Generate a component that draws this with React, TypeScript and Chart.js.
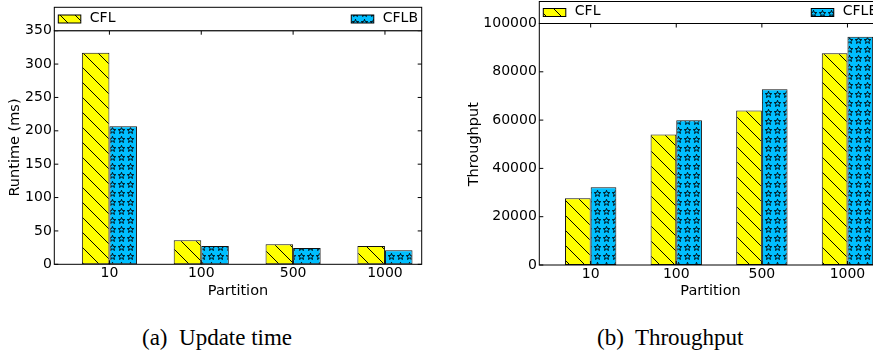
import React, { useEffect, useRef } from "react";
import { Chart, registerables } from "chart.js";

Chart.register(...registerables);
Chart.defaults.font.family = '"DejaVu Sans", sans-serif';
Chart.defaults.color = "#000";

const categories = ["10", "100", "500", "1000"];
const seriesNames = ["CFL", "CFLB"];
const runtimeCFL = [317, 36, 30, 27.5];
const runtimeCFLB = [207, 27.5, 24.5, 21];
const throughputCFL = [27600, 54000, 64000, 87700];
const throughputCFLB = [32200, 59900, 72800, 94500];
const runtimeTicks = [0, 50, 100, 150, 200, 250, 300, 350];
const throughputTicks = [0, 20000, 40000, 60000, 80000, 100000];

function makeHatch(): CanvasPattern {
  const s = 15;
  const c = document.createElement("canvas");
  c.width = s;
  c.height = s;
  const g = c.getContext("2d")!;
  g.fillStyle = "#ffff00";
  g.fillRect(0, 0, s, s);
  g.strokeStyle = "#000";
  g.lineWidth = 1;
  g.beginPath();
  for (const o of [-s, 0, s]) {
    g.moveTo(o - 1, -1);
    g.lineTo(o + s + 1, s + 1);
  }
  g.stroke();
  return g.createPattern(c, "repeat")!;
}

function makeStars(): CanvasPattern {
  const s = 9;
  const c = document.createElement("canvas");
  c.width = s;
  c.height = s;
  const g = c.getContext("2d")!;
  g.fillStyle = "#00bfff";
  g.fillRect(0, 0, s, s);
  g.strokeStyle = "#000";
  g.lineWidth = 0.9;
  const cx = 4.5, cy = 4.7, R = 3.4, r = 1.45;
  g.beginPath();
  for (let i = 0; i < 10; i++) {
    const ang = -Math.PI / 2 + (i * Math.PI) / 5;
    const rr = i % 2 === 0 ? R : r;
    const x = cx + rr * Math.cos(ang);
    const y = cy + rr * Math.sin(ang);
    if (i === 0) g.moveTo(x, y);
    else g.lineTo(x, y);
  }
  g.closePath();
  g.stroke();
  return g.createPattern(c, "repeat")!;
}

const framePlugin = {
  id: "frame",
  afterDatasetsDraw(chart: any) {
    const { ctx, chartArea: a, scales } = chart;
    ctx.save();
    ctx.strokeStyle = "#000";
    ctx.lineWidth = 1;
    ctx.strokeRect(a.left, a.top, a.right - a.left, a.bottom - a.top);
    ctx.beginPath();
    for (const t of scales.y.ticks) {
      const y = scales.y.getPixelForValue(t.value);
      ctx.moveTo(a.left, y);
      ctx.lineTo(a.left + 4, y);
      ctx.moveTo(a.right, y);
      ctx.lineTo(a.right - 4, y);
    }
    for (const t of scales.x.ticks) {
      const x = scales.x.getPixelForValue(t.value);
      ctx.moveTo(x, a.top);
      ctx.lineTo(x, a.top + 4);
      ctx.moveTo(x, a.bottom);
      ctx.lineTo(x, a.bottom - 4);
    }
    ctx.stroke();
    ctx.restore();
  },
};

const legendPlugin = {
  id: "boxLegend",
  afterDraw(chart: any, _args: any, opts: any) {
    const { ctx, chartArea: a } = chart;
    const h = opts.height;
    const top = a.top - h;
    ctx.save();
    ctx.fillStyle = "#fff";
    ctx.fillRect(a.left, top, a.right - a.left, h);
    ctx.strokeStyle = "#000";
    ctx.lineWidth = 1;
    ctx.strokeRect(a.left, top, a.right - a.left, h);
    const cy = top + h / 2;
    ctx.font = '14px "DejaVu Sans"';
    ctx.textBaseline = "middle";
    ctx.textAlign = "left";
    const ds = chart.data.datasets;
    const sw = 22.5, sh = 8, gap = 31.5;
    const drawItem = (d: any, sx: number) => {
      ctx.fillStyle = d.backgroundColor;
      ctx.fillRect(sx, cy - sh / 2, sw, sh);
      ctx.strokeStyle = "#000";
      ctx.strokeRect(sx, cy - sh / 2, sw, sh);
      ctx.fillStyle = "#000";
      ctx.fillText(d.label, sx + gap, cy - 0.7);
    };
    drawItem(ds[0], a.left + 4);
    const tw = ctx.measureText(ds[1].label).width;
    drawItem(ds[1], a.right - 3.7 - tw - gap);
    ctx.restore();
  },
};

interface P {
  a: number[];
  b: number[];
  ticks: number[];
  yTitle: string;
  top: number;
  right: number;
  yw: number;
  xh: number;
  legendH: number;
  yTitlePad: number;
}

function makeConfig(p: P, hatch: CanvasPattern, stars: CanvasPattern): any {
  const common = {
    borderColor: "#111",
    borderWidth: 1,
    borderSkipped: false,
    categoryPercentage: 0.6,
    barPercentage: 1,
  };
  return {
    type: "bar",
    data: {
      datasets: [
        { ...common, label: seriesNames[0], data: p.a.map((v, i) => ({ x: i, y: v })), backgroundColor: hatch },
        { ...common, label: seriesNames[1], data: p.b.map((v, i) => ({ x: i, y: v })), backgroundColor: stars },
      ],
    },
    options: {
      responsive: false,
      animation: false,
      events: [],
      layout: { padding: { left: 0, top: p.top, right: p.right, bottom: 0 } },
      plugins: {
        legend: { display: false },
        tooltip: { enabled: false },
        boxLegend: { height: p.legendH },
      },
      scales: {
        x: {
          type: "linear",
          min: -0.6,
          max: 3.4,
          offset: false,
          grid: { display: false, drawTicks: false, offset: false },
          border: { display: false },
          afterBuildTicks: (s: any) => {
            s.ticks = categories.map((_, i) => ({ value: i }));
          },
          afterFit: (s: any) => {
            s.height = p.xh;
          },
          ticks: {
            callback: (v: number) => categories[Math.round(v)] ?? "",
            padding: 0.5,
            color: "#000",
            font: { size: 14 },
            maxRotation: 0,
            autoSkip: false,
          },
          title: {
            display: true,
            text: "Partition",
            color: "#000",
            font: { size: 14.5 },
            padding: { top: 0, bottom: 0 },
          },
        },
        y: {
          type: "linear",
          min: p.ticks[0],
          max: p.ticks[p.ticks.length - 1],
          grid: { display: false, drawTicks: false },
          border: { display: false },
          afterBuildTicks: (s: any) => {
            s.ticks = p.ticks.map((v) => ({ value: v }));
          },
          afterFit: (s: any) => {
            s.width = p.yw;
          },
          ticks: {
            callback: (v: number) => String(v),
            padding: 2.5,
            color: "#000",
            font: { size: 14 },
          },
          title: {
            display: true,
            text: p.yTitle,
            color: "#000",
            font: { size: 14.5 },
            padding: { top: p.yTitlePad, bottom: 0 },
          },
        },
      },
    },
    plugins: [framePlugin, legendPlugin],
  };
}

function BarChart({ p, width, height, left }: { p: P; width: number; height: number; left: number }) {
  const ref = useRef<HTMLCanvasElement>(null);
  useEffect(() => {
    if (!ref.current) return;
    const chart = new Chart(ref.current, makeConfig(p, makeHatch(), makeStars()));
    return () => chart.destroy();
  }, []);
  return (
    <canvas
      ref={ref}
      width={width}
      height={height}
      style={{ position: "absolute", left, top: 0, width, height }}
    />
  );
}

const runtimeP: P = {
  a: runtimeCFL,
  b: runtimeCFLB,
  ticks: runtimeTicks,
  yTitle: "Runtime (ms)",
  top: 30.7,
  right: 18.3,
  yw: 54.3,
  xh: 35.7,
  legendH: 23.4,
  yTitlePad: 6.3,
};

const throughputP: P = {
  a: throughputCFL,
  b: throughputCFLB,
  ticks: throughputTicks,
  yTitle: "Throughput",
  top: 23.5,
  right: 18.3,
  yw: 99.3,
  xh: 35,
  legendH: 22,
  yTitlePad: 25.3,
};

const captionStyle: React.CSSProperties = {
  position: "absolute",
  top: 326,
  fontFamily: '"Liberation Serif", "Times New Roman", serif',
  fontSize: 23,
  lineHeight: "23px",
  whiteSpace: "pre",
  color: "#000",
};

export default function App() {
  return (
    <div
      style={{
        position: "fixed",
        left: 0,
        top: 0,
        width: 873,
        height: 354,
        overflow: "hidden",
        background: "#fff",
      }}
    >
      <BarChart p={runtimeP} width={440} height={300} left={0} />
      <BarChart p={throughputP} width={460} height={300} left={440} />
      <div style={{ ...captionStyle, left: 142 }}>{"(a)  Update time"}</div>
      <div style={{ ...captionStyle, left: 597 }}>{"(b)  Throughput"}</div>
    </div>
  );
}
